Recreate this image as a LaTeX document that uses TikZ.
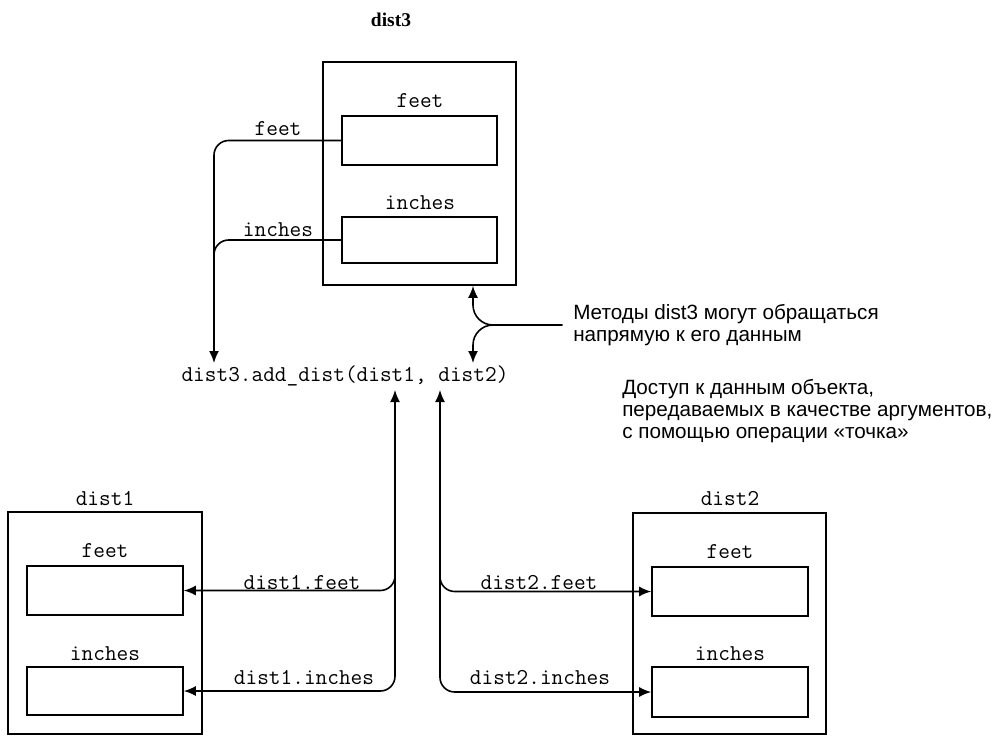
\documentclass[tikz,border=0pt]{standalone}
\usepackage{fontspec}
\setmainfont{Liberation Serif}
\setsansfont{Liberation Sans}
\usetikzlibrary{arrows.meta,fit}
\begin{document}
\begin{tikzpicture}[x=0.75pt,y=-0.75pt,
  box/.style={draw, line width=1.2pt, inner sep=0pt},
  mono/.style={font=\fontsize{17}{20}\selectfont\ttfamily, inner sep=0pt},
  note/.style={font=\fontsize{15.5}{16.5}\selectfont\sffamily, align=left, inner sep=0pt},
  conn/.style={line width=1.2pt, rounded corners=11pt},
  tipa/.tip={Latex[length=9pt,width=7.5pt]}
]
\fill[white] (0,0) rectangle (997,736);
\useasboundingbox (0,0) rectangle (997,736);

% title
\node[font=\fontsize{14.6}{17}\selectfont\bfseries, inner sep=0pt] (title) at (391,20) {dist3};

% dist3 object
\node[box, fit={(323,62)(516,285)}] (d3) {};
\node[box, fit={(342,116)(497,165)}] (d3f) {};
\node[box, fit={(342,217)(497,263)}] (d3i) {};
\node[mono] (d3fl) at (420,101) {feet};
\node[mono] (d3il) at (420,203) {inches};
\node[mono] (d3fa) at (278,129) {feet};
\node[mono] (d3ia) at (278,230) {inches};

% call
\node[mono] (call) at (345,376) {dist3.add\_dist(dist1, dist2)};
\coordinate (c3a) at (214,363);
\coordinate (c3b) at (473,363);
\coordinate (c1) at (395,390);
\coordinate (c2) at (440,390);
\coordinate (j3) at (473,325);

\draw[conn, -tipa] (d3f.west) -| (c3a);
\draw[conn, shorten >=6pt] (d3i.west) -| (c3a);

% note 1
\node[note, anchor=west] (n1) at (573,325) {Методы dist3 могут обращаться\\напрямую к его данным};
\draw[conn, rounded corners=15pt, -tipa] ([xshift=-8pt]n1.west) -| (d3.south -| j3);
\draw[conn, rounded corners=15pt, -tipa] ([xshift=-8pt]n1.west) -| (c3b);

% note 2
\node[note, anchor=north west] (n2) at (622,379) {Доступ к данным объекта,\\передаваемых в качестве аргументов,\\с помощью операции «точка»};

% dist1 object
\node[mono] (d1l) at (105,499) {dist1};
\node[box, fit={(8,512)(202,734)}] (d1) {};
\node[box, fit={(27,566)(183,615)}] (d1f) {};
\node[box, fit={(27,667)(183,715)}] (d1i) {};
\node[mono] (d1fl) at (105,551) {feet};
\node[mono] (d1il) at (105,654) {inches};

% dist2 object
\node[mono] (d2l) at (730,499) {dist2};
\node[box, fit={(633,513)(826,734)}] (d2) {};
\node[box, fit={(652,567)(808,616)}] (d2f) {};
\node[box, fit={(652,667)(808,717)}] (d2i) {};
\node[mono] (d2fl) at (730,552) {feet};
\node[mono] (d2il) at (730,654) {inches};

% argument connectors
\draw[conn, tipa-tipa] (d1f.east) -| (c1);
\draw[conn, tipa-, shorten >=6pt] (d1i.east) -| (c1);
\draw[conn, tipa-tipa] (d2f.west) -| (c2);
\draw[conn, tipa-, shorten >=6pt] (d2i.west) -| (c2);

\node[mono] (l1f) at (302,582) {dist1.feet};
\node[mono] (l1i) at (304,677) {dist1.inches};
\node[mono] (l2f) at (539,582) {dist2.feet};
\node[mono] (l2i) at (540,677) {dist2.inches};
\end{tikzpicture}
\end{document}
